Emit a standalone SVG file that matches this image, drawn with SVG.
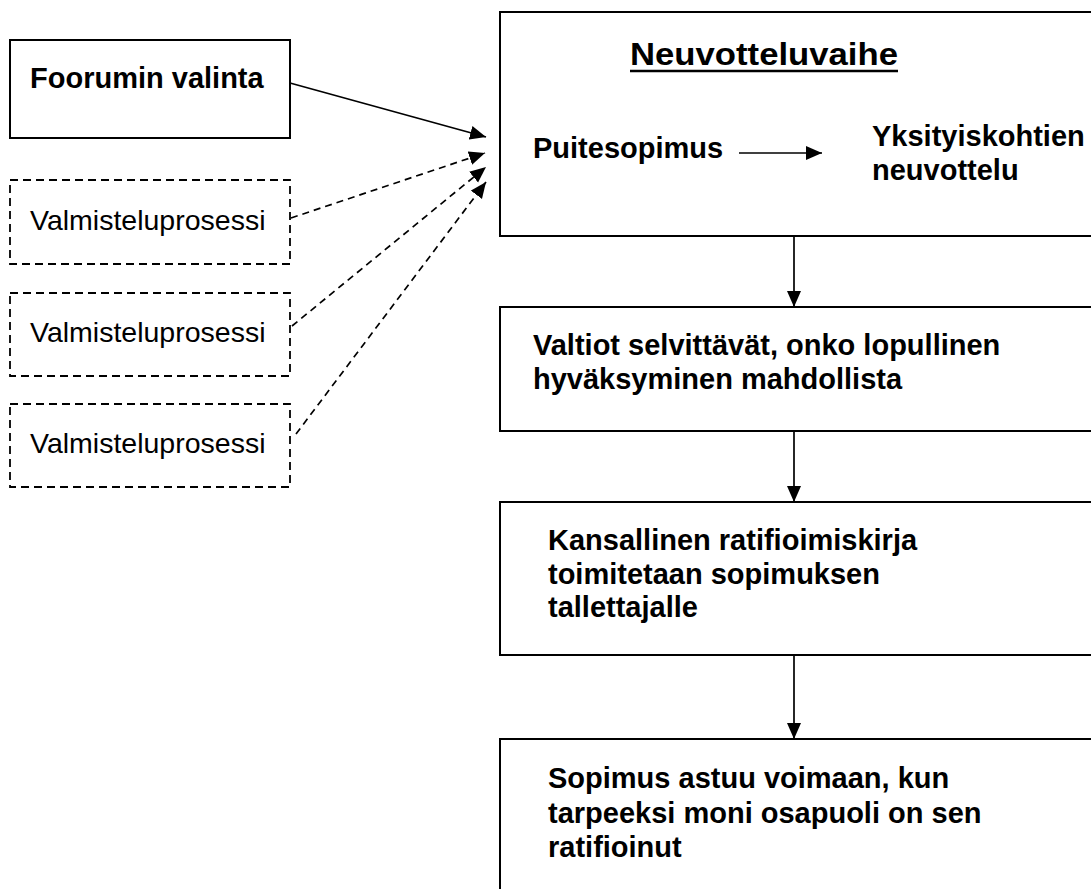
<svg xmlns="http://www.w3.org/2000/svg" width="1091" height="889" viewBox="0 0 1091 889">
  <style>
    .box { fill: #ffffff; stroke: #000000; stroke-width: 2; }
    .dbox { fill: #ffffff; stroke: #000000; stroke-width: 1.8; stroke-dasharray: 8 5; }
    .b { font-family: "Liberation Sans", Arial, sans-serif; font-weight: bold; fill: #000000; }
    .r { font-family: "Liberation Sans", Arial, sans-serif; fill: #000000; }
    .conn { stroke: #000000; stroke-width: 1.7; fill: none; }
    .dconn { stroke: #000000; stroke-width: 1.7; fill: none; stroke-dasharray: 7 5; }
  </style>
  <defs>
    <marker id="ah" markerUnits="userSpaceOnUse" markerWidth="17" markerHeight="15" refX="16" refY="7" orient="auto">
      <path d="M0,0 L16,7 L0,14 z" fill="#000000"/>
    </marker>
  </defs>
  <rect width="1091" height="889" fill="#ffffff"/>

  <g id="foorumi">
    <rect class="box" x="10" y="40" width="280" height="98"/>
    <text class="b" x="30" y="88" font-size="29">Foorumin valinta</text>
  </g>
  <g id="valmistelu1">
    <rect class="dbox" x="10" y="180" width="280" height="84"/>
    <text class="r" x="30" y="230" font-size="28.5">Valmisteluprosessi</text>
  </g>
  <g id="valmistelu2">
    <rect class="dbox" x="10" y="293" width="280" height="83"/>
    <text class="r" x="30" y="342" font-size="28.5">Valmisteluprosessi</text>
  </g>
  <g id="valmistelu3">
    <rect class="dbox" x="10" y="404" width="280" height="83"/>
    <text class="r" x="30" y="453" font-size="28.5">Valmisteluprosessi</text>
  </g>

  <g id="neuvotteluvaihe">
    <rect class="box" x="500" y="12" width="620" height="224"/>
    <text class="b" x="630" y="65" font-size="31" textLength="268" lengthAdjust="spacingAndGlyphs">Neuvotteluvaihe</text>
    <line x1="630" y1="71" x2="898" y2="71" stroke="#000000" stroke-width="2.4"/>
    <text class="b" x="533" y="158" font-size="29">Puitesopimus</text>
    <text class="b" x="872" y="146" font-size="29">Yksityiskohtien</text>
    <text class="b" x="872" y="180" font-size="29">neuvottelu</text>
    <line class="conn" x1="739" y1="153" x2="822" y2="153" marker-end="url(#ah)"/>
  </g>
  <g id="valtiot">
    <rect class="box" x="500" y="307" width="620" height="124"/>
    <text class="b" x="533" y="355" font-size="29">Valtiot selvittävät, onko lopullinen</text>
    <text class="b" x="533" y="389" font-size="29">hyväksyminen mahdollista</text>
  </g>
  <g id="ratifiointi">
    <rect class="box" x="500" y="502" width="620" height="153"/>
    <text class="b" x="548" y="550" font-size="29">Kansallinen ratifioimiskirja</text>
    <text class="b" x="548" y="584" font-size="29">toimitetaan sopimuksen</text>
    <text class="b" x="548" y="617" font-size="29">tallettajalle</text>
  </g>
  <g id="voimaantulo">
    <rect class="box" x="500" y="739" width="620" height="170"/>
    <text class="b" x="548" y="788" font-size="29">Sopimus astuu voimaan, kun</text>
    <text class="b" x="548" y="823" font-size="29">tarpeeksi moni osapuoli on sen</text>
    <text class="b" x="548" y="857" font-size="29">ratifioinut</text>
  </g>

  <g id="connectors">
    <line class="conn" x1="290" y1="83" x2="486" y2="137" marker-end="url(#ah)"/>
    <line class="dconn" x1="291" y1="218" x2="485" y2="153" marker-end="url(#ah)"/>
    <line class="dconn" x1="292" y1="326" x2="486" y2="167" marker-end="url(#ah)"/>
    <line class="dconn" x1="296" y1="434" x2="486" y2="182" marker-end="url(#ah)"/>
    <line class="conn" x1="794" y1="236" x2="794" y2="307" marker-end="url(#ah)"/>
    <line class="conn" x1="794" y1="431" x2="794" y2="502" marker-end="url(#ah)"/>
    <line class="conn" x1="794" y1="655" x2="794" y2="739" marker-end="url(#ah)"/>
  </g>
</svg>
